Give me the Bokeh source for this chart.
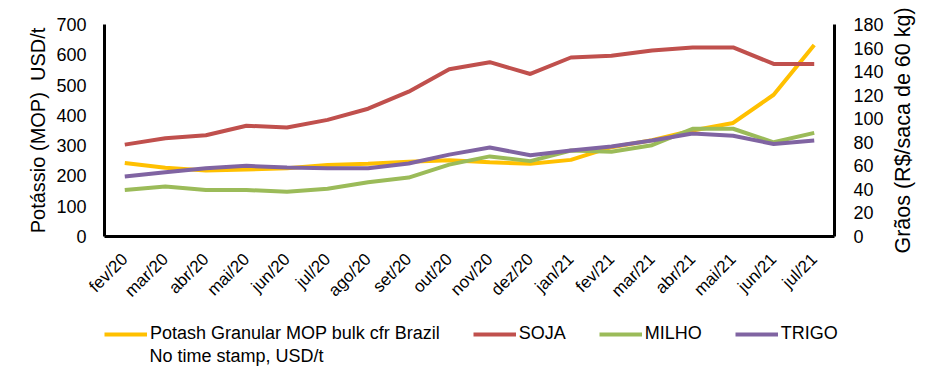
from bokeh.plotting import figure
from bokeh.models import (FactorRange, Range1d, LinearAxis, SingleIntervalTicker, FixedTicker,
                          Legend, LegendItem, Label)
from bokeh.layouts import column, row
from bokeh.embed import file_html
from bokeh.resources import INLINE
import math

months = ["fev/20", "mar/20", "abr/20", "mai/20", "jun/20", "jul/20", "ago/20", "set/20",
          "out/20", "nov/20", "dez/20", "jan/21", "fev/21", "mar/21", "abr/21", "mai/21",
          "jun/21", "jul/21"]
potash = [243, 227, 218, 221, 225, 236, 240, 247, 252, 245, 240, 253, 295, 318, 350, 375, 468, 632]
soja = [78, 83.5, 86, 94, 92.5, 99, 108.5, 123, 142, 148, 138, 152, 153.5, 158, 160.5, 160.5, 146.5, 146.5]
milho = [39.5, 42.5, 39.5, 39.5, 38, 40.5, 46, 50, 61, 68, 64, 73, 72, 77.5, 91.5, 91.5, 80, 88]
trigo = [51, 54.5, 58, 60, 58.5, 58, 58, 62, 69.5, 75.5, 69, 73, 76.5, 81.5, 87.5, 85.5, 78.5, 81.5]

series_names = ["Potash Granular MOP bulk cfr Brazil", "SOJA", "MILHO", "TRIGO"]
potash_note = "No time stamp, USD/t"
colors = ["#FFC000", "#C0504D", "#9BBB59", "#8064A2"]
left_title = "Potássio (MOP)\u00a0 USD/t"
right_title = "Grãos (R$/saca de 60 kg)"

FONT = "Liberation Sans"

p = figure(width=886, height=316, x_range=FactorRange(*months, range_padding=0),
           y_range=Range1d(0, 700), output_backend="svg", toolbar_location=None,
           min_border_left=104, min_border_right=47, min_border_top=24, min_border_bottom=80)
p.outline_line_color = None
p.grid.visible = False
p.extra_y_ranges = {"grain": Range1d(0, 180)}

def style_axis(ax, size):
    ax.axis_line_width = 3
    ax.axis_line_color = "black"
    ax.major_tick_line_color = None
    ax.minor_tick_line_color = None
    ax.major_tick_out = 0
    ax.major_tick_in = 0
    ax.major_label_text_font = FONT
    ax.major_label_text_font_size = size
    ax.major_label_text_color = "black"
    ax.axis_label_text_font = FONT
    ax.axis_label_text_font_size = "20px"
    ax.axis_label_text_font_style = "normal"
    ax.axis_label_text_color = "black"

xa = p.xaxis[0]
style_axis(xa, "17px")
xa.major_label_orientation = math.pi / 4
xa.major_label_standoff = 20

ya = p.yaxis[0]
style_axis(ya, "18px")
ya.ticker = SingleIntervalTicker(interval=100)
ya.axis_label = left_title
ya.major_label_standoff = 14
ya.axis_label_standoff = 4

ra = LinearAxis(y_range_name="grain", ticker=SingleIntervalTicker(interval=20))
style_axis(ra, "18px")
ra.major_label_standoff = 15
p.add_layout(ra, "right")

p.line(months, potash, line_color=colors[0], line_width=4)
p.line(months, soja, line_color=colors[1], line_width=4, y_range_name="grain")
p.line(months, milho, line_color=colors[2], line_width=4, y_range_name="grain")
p.line(months, trigo, line_color=colors[3], line_width=4, y_range_name="grain")

# narrow strip on the right carrying the right-hand axis title (reads bottom to top)
p3 = figure(width=41, height=316, output_backend="svg", toolbar_location=None,
            x_axis_type=None, y_axis_type=None,
            min_border_left=28, min_border_right=0, min_border_top=24, min_border_bottom=65,
            x_range=Range1d(0, 1), y_range=Range1d(0, 180))
p3.outline_line_color = None
p3.grid.visible = False
ta = LinearAxis(ticker=FixedTicker(ticks=[]))
ta.axis_line_color = None
ta.major_tick_line_color = None
ta.minor_tick_line_color = None
ta.major_tick_out = 0
ta.major_label_text_font_size = "0px"
ta.major_label_standoff = 0
ta.axis_label = right_title
ta.axis_label_standoff = 0
ta.axis_label_text_font = FONT
ta.axis_label_text_font_size = "21.5px"
ta.axis_label_text_font_style = "normal"
ta.axis_label_text_color = "black"
p3.add_layout(ta, "left")

# legend strip below the chart (its own lines are out of view; only the swatches show)
p2 = figure(width=927, height=52, output_backend="svg", toolbar_location=None,
            x_axis_type=None, y_axis_type=None,
            min_border_left=104, min_border_right=80, min_border_top=0, min_border_bottom=0,
            x_range=FactorRange(*months, range_padding=0), y_range=Range1d(1000, 1001))
p2.outline_line_color = None
p2.grid.visible = False
items = []
for name, c, vals in zip(series_names, colors, [potash, soja, milho, trigo]):
    rr = p2.line(months, vals, line_color=c, line_width=4)
    items.append(LegendItem(label=name, renderers=[rr]))
legend = Legend(items=items, orientation="horizontal", location=(0, 24))
legend.glyph_width = 43
legend.glyph_height = 20
legend.label_standoff = 3
legend.spacing = 33
legend.padding = 0
legend.margin = 0
legend.border_line_color = None
legend.background_fill_alpha = 0
legend.label_text_font = FONT
legend.label_text_font_size = "18px"
legend.label_text_color = "black"
p2.add_layout(legend, "center")
p2.add_layout(Label(x=45, y=13, x_units="screen", y_units="screen", text=potash_note,
                    text_font=FONT, text_font_size="18px", text_color="black",
                    text_baseline="middle"))

layout = column(row(p, p3, spacing=0), p2, spacing=0)
open("out.html", "w").write(file_html(layout, INLINE))
